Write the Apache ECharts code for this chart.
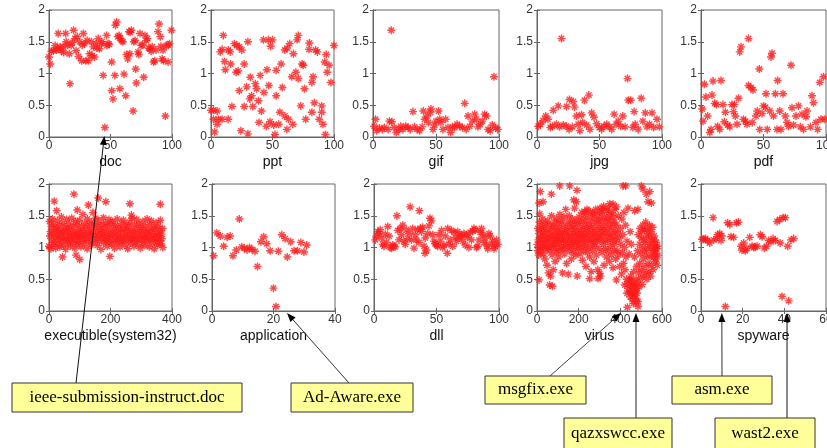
<!DOCTYPE html>
<html>
<head>
<meta charset="utf-8">
<script src="https://cdn.jsdelivr.net/npm/echarts@6/dist/echarts.min.js"></script>
<style>
  html, body { margin: 0; padding: 0; background: #fff; }
  #main { width: 827px; height: 448px; }
</style>
</head>
<body>
<div id="main"></div>
<script>
// panel names / x ranges
var xNames = ['doc', 'ppt', 'gif', 'jpg', 'pdf', 'executible(system32)', 'application', 'dll', 'virus', 'spyware'];
var xMaxes = [100, 100, 100, 100, 100, 400, 40, 100, 600, 60];
var xSteps = [50, 50, 50, 50, 50, 200, 20, 50, 200, 20];
var yMax = 2, yStep = 0.5;

// values, [x, y]
var docPts = [[0,1.26],[1,1.15],[2,1.35],[3.5,1.36],[5,1.44],[6,1.37],[7,1.39],[7.5,1.63],[9,1.42],[10,1.36],[11.6,1.42],[12,1.33],[13.5,1.63],[14,1.5],[15,1.45],[16.5,1.31],[17,0.84],[18,1.44],[19,1.49],[20,1.68],[21,1.55],[22,1.36],[23,1.58],[24,1.27],[25,1.5],[26.5,1.2],[27,1.45],[28,1.63],[29,1.47],[30,1.2],[31,1.52],[32,1.2],[33,1.31],[34.5,1.5],[35,1.28],[36,1.42],[37,1.26],[38.5,1.47],[39,1.4],[40,1.55],[41,1.39],[42.7,1.47],[43,1.5],[44,0.97],[45.4,0.15],[46.8,1.6],[47,1.44],[48,1.47],[49,1.46],[51,1.18],[51,0.73],[52,0.6],[53.5,0.97],[54,1.76],[55,1.81],[56,1.58],[57,1.6],[57.6,0.76],[58,1.55],[59,1.52],[60,1.5],[61,0.99],[62.4,0.65],[63,1.3],[64,1.23],[65,1.66],[65.7,1.31],[66,1.65],[67,1.68],[68.4,0.41],[69,1.5],[70,1.52],[70.5,1.07],[71,0.85],[72.4,1.34],[73,1.3],[74,1.63],[75,1.44],[76,1.45],[77,0.94],[78,1.6],[79,1.52],[80,1.55],[81,1.4],[82,1.39],[83,1.35],[84,1.42],[85,1.18],[86,1.2],[87,1.37],[88.6,1.66],[89.5,1.78],[90.5,1.58],[91,1.43],[92,1.23],[92.7,1.37],[93,1.2],[94.6,0.33],[95.4,1.44],[96.8,1.18],[97,1.45],[98,1.47],[99.5,1.68]];

var pptPts = [[0,0.42],[2,0.42],[5,0.41],[2,0.28],[5,0.2],[3,0.08],[6,0.28],[9,0.28],[14,0.28],[7.5,1.34],[9,1.38],[10,1.6],[11,1.19],[11.6,1.06],[14,1.37],[15.6,1.34],[16,1.15],[17,0.48],[19,1.47],[20.5,1.02],[21,1.44],[22,1.04],[23,1.42],[25,1.37],[23,0.73],[24.3,0.1],[27,1.15],[27,0.48],[29,0.79],[30,1.5],[30,0.05],[32,0.94],[31.5,0.6],[33,0.65],[34,0.48],[36,0.84],[37,0.76],[38.5,0.57],[40,0.97],[41,0.41],[39,0.23],[42.6,1.53],[43,0.7],[45,0.17],[45.5,1.06],[46.6,1.53],[47,0.81],[48,0.24],[48.5,1.43],[50,1.53],[51,0.19],[52,0.04],[53,0.65],[53,1.05],[55,0.2],[57,1.15],[58,0.78],[56,0.39],[60,1.37],[62,1.4],[60,0.33],[63,0.28],[61.7,0.12],[64,1.47],[65.7,0.95],[66.5,0.2],[67,1.31],[69,1.02],[70,1.53],[71,1.6],[71,0.92],[73,0.49],[74,1.15],[75,1.13],[76,0.76],[77,0.28],[79.7,1.38],[80,1.48],[82,0.86],[83,0.95],[82,0.39],[85,1.37],[86.5,1.34],[84,0.54],[88,0.28],[90,0.39],[90,0.49],[91,0.2],[92.5,1.18],[93,0.04],[93.7,1.3],[96,1.13],[94.5,1.02],[97.5,0.86],[100,1.44]];

var gifPts = [[14.5,1.68],[96,0.95],[31.7,0.4],[72.8,0.53],[1,0.17],[2,0.28],[3,0.1],[5,0.14],[7.4,0.12],[9,0.15],[12,0.12],[13,0.25],[15,0.24],[16.7,0.15],[18.5,0.07],[20.6,0.12],[22,0.17],[23.8,0.12],[26,0.17],[27.8,0.15],[29.6,0.12],[33,0.16],[35,0.12],[37,0.1],[39,0.16],[40,0.41],[41,0.28],[43,0.33],[44,0.23],[45.5,0.39],[46,0.44],[47.6,0.12],[49,0.19],[50,0.25],[52,0.41],[53,0.28],[54,0.23],[55.5,0.12],[57.7,0.28],[59.5,0.15],[61.6,0.07],[63,0.16],[64.8,0.15],[66.7,0.2],[68.8,0.17],[71,0.15],[74,0.12],[75.4,0.33],[76.7,0.17],[78.8,0.25],[80.7,0.36],[82,0.28],[83.3,0.16],[85,0.2],[86.8,0.25],[88.6,0.36],[90,0.33],[91.3,0.12],[93,0.1],[94.7,0.19],[97.4,0.15],[99,0.12]];

var jpgPts = [[19.6,1.55],[72.4,0.92],[73,0.58],[75,0.58],[77.7,0.4],[83.4,0.61],[86.6,0.38],[92,0.38],[96,0.28],[41.5,0.66],[38,0.58],[26,0.59],[29,0.56],[30,0.47],[23.6,0.48],[17,0.49],[13,0.42],[31.6,0.33],[35.6,0.35],[43.7,0.38],[45.6,0.31],[1,0.17],[2.7,0.2],[4.8,0.26],[7,0.33],[8.8,0.28],[10.7,0.15],[12.3,0.17],[15.5,0.2],[18,0.16],[21,0.19],[23.6,0.17],[25.7,0.12],[28.4,0.16],[33,0.2],[34.3,0.1],[36.5,0.23],[39.7,0.19],[42.4,0.12],[47.7,0.21],[49.9,0.15],[51.7,0.12],[53.6,0.17],[55.8,0.2],[57.9,0.16],[59.8,0.12],[61.7,0.36],[63.3,0.2],[65,0.25],[67,0.17],[68.6,0.33],[70.5,0.16],[76.7,0.15],[78.5,0.2],[81,0.12],[84.7,0.25],[88,0.16],[90,0.2],[93.3,0.15],[97.9,0.16]];

var pdfPts = [[1,0.44],[1.6,0.25],[2.7,0.83],[4,0.63],[5.3,0.33],[7,0.07],[8,0.12],[8.8,0.66],[9.6,0.88],[11,0.53],[12.3,0.51],[13.3,0.17],[15,0.12],[16,0.89],[17.6,0.51],[18.7,0.24],[19.5,0.39],[21.3,0.19],[23,0.16],[24.8,0.51],[26,0.4],[26.7,0.51],[27.5,0.33],[28.8,0.2],[30,0.61],[31,1.34],[32,1.42],[34,0.28],[35.5,0.25],[36.8,0.2],[38,1.55],[38,0.81],[40,0.78],[41.6,0.74],[41,0.23],[44,0.33],[45,0.41],[46.7,1.07],[47,0.12],[48.8,0.37],[50,0.49],[51.5,0.47],[52,0.68],[53,0.12],[55,0.41],[56,1.26],[56.8,1.32],[58,0.33],[59.5,0.68],[60.8,0.12],[61.3,0.89],[63,0.41],[64,0.12],[65.6,0.68],[67.5,0.33],[68.8,0.23],[70,0.17],[72,1.13],[72.8,0.46],[74,0.19],[76,0.33],[78,0.49],[79.5,0.16],[80.8,0.36],[82,0.12],[84,0.32],[84.8,0.41],[87.5,0.16],[88.8,0.65],[90,0.54],[92,0.23],[93.3,0.12],[95,0.86],[96,0.28],[98,0.95],[99,0.28]];

var exePts = [[17,1.73],[25,1.58],[81,1.84],[92,1.59],[128,1.67],[160,1.78],[185,1.72],[263,1.69],[268,1.51],[362,1.68],[44,0.85],[88,0.88],[100,0.81],[198,0.86],
[0,1.02],[2,1.41],[3,1.18],[5,1.25],[6,0.98],[8,1.33],[9,1.12],[11,1.45],[12,1.05],[14,1.22],[15,1.36],[17,1.08],[19,1.28],[20,1.15],[22,0.99],[24,1.31],[25,1.19],[27,1.42],[29,1.06],[30,1.24],[32,1.13],[34,1.35],[35,1.01],[37,1.27],[39,1.17],[40,1.48],[42,1.09],[44,1.21],[45,1.38],[47,1.03],[49,1.26],[50,1.14],[52,1.32],[54,0.97],[55,1.19],[57,1.44],[59,1.11],[60,1.29],[62,1.07],[64,1.23],[65,1.37],[67,1.16],[69,1.02],[70,1.3],[72,1.12],[74,1.46],[75,1.2],[77,1.08],[79,1.34],[80,1.17],[82,1.25],[84,0.99],[86,1.41],[87,1.13],[89,1.22],[91,1.05],[92,1.36],[94,1.18],[96,1.28],[97,1.09],[99,1.43],[101,1.15],[103,1.24],[104,1.01],[106,1.33],[108,1.19],[110,1.52],[111,1.11],[113,1.27],[115,1.06],[116,1.38],[118,1.2],[120,1.14],[122,1.31],[124,0.98],[125,1.45],[127,1.22],[129,1.1],[131,1.35],[132,1.17],[134,1.26],[136,1.04],[138,1.4],[139,1.21],[141,1.12],[143,1.55],[145,1.29],[146,1.08],[148,1.37],[150,1.19],[152,1.46],[153,1.14],[155,1.25],[157,1.03],[159,1.33],[160,1.17],[162,1.42],[164,1.1],[166,1.28],[168,1.21],[169,0.97],[171,1.36],[173,1.15],[175,1.24],[177,1.47],[178,1.07],[180,1.3],[182,1.18],[184,1.39],[186,1.11],[187,1.23],[189,1.02],[191,1.34],[193,1.16],[195,1.44],[197,1.09],[198,1.27],[200,1.19],[202,1.37],[204,1.05],[206,1.22],[207,1.41],[209,1.13],[211,1.29],[213,0.99],[215,1.18],[216,1.35],[218,1.1],[220,1.25],[222,1.45],[224,1.07],[225,1.2],[227,1.32],[229,1.14],[231,1.01],[233,1.28],[234,1.16],[236,1.38],[238,1.09],[240,1.23],[242,1.43],[243,1.12],[245,1.3],[247,1.04],[249,1.19],[251,1.36],[252,1.15],[254,1.26],[256,0.98],[258,1.33],[260,1.11],[261,1.21],[263,1.4],[265,1.07],[267,1.27],[269,1.17],[270,1.46],[272,1.13],[274,1.24],[276,1.02],[278,1.35],[279,1.18],[281,1.09],[283,1.29],[285,1.44],[287,1.14],[288,1.22],[290,1.05],[292,1.37],[294,1.16],[296,1.26],[297,0.99],[299,1.32],[301,1.12],[303,1.2],[305,1.41],[306,1.08],[308,1.28],[310,1.17],[312,1.03],[314,1.34],[315,1.15],[317,1.23],[319,1.45],[321,1.1],[323,1.27],[324,1.19],[326,1.01],[328,1.36],[330,1.13],[332,1.25],[333,1.42],[335,1.07],[337,1.2],[339,1.31],[341,1.14],[342,0.98],[344,1.29],[346,1.16],[348,1.39],[350,1.09],[351,1.22],[353,1.04],[355,1.33],[357,1.18],[359,1.11],[360,1.26],[362,1.43],[364,1.06],[366,1.21],[367,1.14],[369,1.3],[370,1.0]];

var appPts = [[0.5,0.87],[1.6,1.23],[2.7,1.18],[3.8,1.02],[4.9,1.16],[5.9,1.18],[6.8,0.87],[7.9,0.96],[8.9,1.45],[9.7,1.01],[10.5,0.99],[11.4,0.96],[12.2,1.0],[13,0.97],[14,0.94],[14.8,0.7],[15.9,1.09],[16.8,1.17],[17.8,1.06],[18.9,0.95],[20,0.36],[20.8,0.07],[21.6,0.94],[22.7,1.2],[23.8,1.14],[24.5,0.85],[25.6,1.09],[26.7,0.95],[27.8,0.95],[28.9,1.08],[29.9,0.93],[30.8,1.04]];

var dllPts = [[18.3,1.5],[28.9,1.64],[36.3,1.58],[44.8,1.46],[40.8,0.91],[58.6,0.91],
[1,1.12],[2,1.18],[3,1.25],[4,1.22],[5,1.28],[6,1.15],[7,1.05],[8,1.02],[9,1.21],[10,1.08],[11,1.33],[12,1.18],[13,1.0],[14,0.99],[15,1.04],[16,1.02],[17,1.01],[19,1.27],[20,1.12],[21,1.3],[22,1.2],[23,1.35],[24,1.1],[25,1.05],[26,1.28],[27,1.14],[28,1.22],[30,1.12],[31,1.3],[32,0.99],[33,1.2],[34,1.12],[35,1.28],[36,1.08],[37,1.3],[38,1.25],[39,1.32],[40,1.02],[41,1.15],[42,0.96],[43,1.22],[44,1.34],[46,1.42],[47,1.2],[48,1.1],[49,1.06],[50,1.04],[51,1.02],[52,1.2],[53,1.1],[54,1.27],[55,1.0],[56,1.04],[57,1.18],[59,1.3],[60,1.05],[61,1.12],[62,1.27],[63,1.02],[64,1.24],[65,1.16],[66,1.1],[67,1.25],[68,1.15],[69,1.2],[70,1.18],[71,1.1],[72,1.22],[73,1.04],[74,1.2],[75,1.16],[76,1.0],[77,1.24],[78,1.12],[79,1.26],[80,1.3],[81,1.28],[82,1.0],[83,1.02],[84,1.12],[85,1.24],[86,1.3],[87,1.2],[88,1.08],[89,1.15],[90,1.04],[91,0.98],[92,1.22],[93,1.18],[94,1.05],[95,1.1],[96,0.98],[97,1.02],[98,1.12],[99,1.05]];

var virusPts = [[16,1.88],[10,1.7],[13,1.53],[10,0.49],[29,1.72],[69,1.84],[61,0.41],[74,0.39],[109,1.97],[157,1.97],[192,1.9],[176,1.75],[189,1.72],[253,0.51],[301,0.59],[293,0.51],[381,0.49],[413,1.97],[426,1.97],[432,0.28],[434,0.06],[421,0.41],[453,0.49],[461,0.36],[464,0.24],[477,0.15],[485,0.07],[501,1.97],[509,1.92],[541,1.88],[549,1.7],[533,1.72],[525,1.84],[485,1.6],[469,1.58],[381,1.64],[365,1.68],[349,1.69],[317,1.61],[301,1.56],[269,1.54],[229,1.56],[240,1.6],
[2,1.05],[4,0.95],[5,1.3],[7,1.12],[8,0.88],[10,1.22],[12,1.4],[13,1.0],[15,1.15],[17,0.92],[18,1.28],[20,1.08],[22,1.35],[23,0.98],[25,1.18],[27,1.45],[28,1.02],[30,1.25],[32,0.9],[33,1.12],[35,1.32],[37,1.05],[38,0.82],[40,1.2],[42,1.38],[43,0.97],[45,1.1],[47,1.28],[48,0.72],[50,1.15],[52,1.42],[53,1.0],[55,0.6],[57,1.22],[58,1.08],[60,0.95],[62,1.35],[63,1.15],[65,0.55],[67,1.02],[68,1.27],[70,1.5],[72,0.88],[73,1.18],[75,1.05],[77,1.33],[78,0.65],[80,1.12],[82,0.98],[83,1.4],[85,1.2],[87,0.78],[88,1.06],[90,1.3],[92,1.15],[93,0.92],[95,1.45],[97,1.1],[98,1.25],[100,1.0],
[102,1.38],[103,1.18],[105,0.85],[107,1.08],[108,1.3],[110,1.52],[112,0.95],[113,1.2],[115,1.12],[117,1.42],[118,1.02],[120,1.25],[122,0.6],[123,1.15],[125,1.35],[127,0.98],[128,1.1],[130,1.48],[132,1.22],[133,0.9],[135,1.05],[137,1.3],[138,1.6],[140,1.12],[142,0.75],[143,1.25],[145,1.0],[147,1.4],[148,1.18],[150,0.58],[152,1.08],[153,1.32],[155,1.5],[157,0.95],[158,1.2],[160,1.12],[162,1.38],[163,1.02],[165,0.82],[167,1.28],[168,1.15],[170,1.45],[172,1.05],[173,0.92],[175,1.22],[177,1.35],[178,1.1],[180,1.62],[182,1.0],[183,1.3],[185,1.18],[187,0.88],[188,1.42],[190,1.08],[192,1.25],[193,0.55],[195,1.12],[197,1.38],[198,0.98],[200,1.2],
[202,1.48],[203,1.05],[205,1.3],[207,0.9],[208,1.15],[210,1.4],[212,1.22],[213,1.0],[215,1.55],[217,1.1],[218,0.8],[220,1.28],[222,1.18],[223,1.45],[225,0.95],[227,1.35],[228,1.08],[230,1.2],[232,1.52],[233,1.02],[235,0.7],[237,1.3],[238,1.15],[240,1.42],[242,0.92],[243,1.25],[245,1.1],[247,1.58],[248,1.0],[250,1.35],[252,1.2],[253,0.85],[255,1.48],[257,1.12],[258,1.3],[260,0.62],[262,1.05],[263,1.4],[265,1.22],[267,0.95],[268,1.55],[270,1.15],[272,1.32],[273,0.78],[275,1.08],[277,1.45],[278,1.25],[280,1.02],[282,1.6],[283,1.18],[285,0.88],[287,1.38],[288,1.1],[290,1.5],[292,0.65],[293,1.28],[295,1.15],[297,1.42],[298,0.98],[300,1.2],
[302,1.62],[303,1.32],[305,0.55],[307,1.1],[308,1.45],[310,1.25],[312,0.92],[313,1.55],[315,1.18],[317,1.35],[318,1.05],[320,1.65],[322,0.72],[323,1.28],[325,1.48],[327,1.12],[328,0.98],[330,1.4],[332,1.22],[333,0.85],[335,1.58],[337,1.3],[338,1.1],[340,1.45],[342,0.95],[343,1.62],[345,1.2],[347,1.35],[348,0.78],[350,1.52],[352,1.15],[353,1.02],[355,1.42],[357,1.25],[358,0.88],[360,1.55],[362,1.1],[363,1.32],[365,0.68],[367,1.48],[368,1.18],[370,0.95],[372,1.4],[373,1.05],[375,1.6],[377,1.25],[378,0.82],[380,1.12],
[382,1.35],[385,0.95],[387,1.22],[390,1.5],[392,0.88],[395,1.15],[397,0.7],[400,1.3],[402,1.05],[405,0.58],[407,1.45],[410,0.92],[412,1.2],[415,0.75],[417,1.55],[420,1.0],[422,0.65],[425,1.35],[427,0.85],[430,0.5],[432,1.1],[435,0.42],[437,1.62],[440,0.35],[442,0.9],[443,0.48],[445,0.3],[447,1.25],[448,0.22],[450,0.55],[452,0.4],[453,1.05],[455,0.28],[457,0.18],[458,0.45],[460,0.32],[462,0.12],[463,0.62],[465,0.38],[467,0.25],[468,0.85],[470,0.42],[472,0.3],[473,0.2],[475,0.5],[477,0.35],[478,0.7],[480,0.28],
[482,0.45],[483,0.95],[485,0.15],[487,1.2],[488,0.6],[490,0.38],[492,1.05],[493,0.75],[495,1.3],[497,0.52],[498,0.9],[500,1.15],[502,0.65],[503,1.25],[505,0.42],[507,1.0],[508,1.35],[510,0.82],[512,1.12],[513,0.55],[515,0.95],[517,1.28],[518,0.7],[520,1.08],[522,1.4],[523,0.6],[525,0.88],[527,1.18],[528,0.5],[530,1.3],[532,0.98],[533,0.75],[535,1.22],[537,0.62],[538,1.05],[540,1.35],[542,0.85],[543,1.15],[545,0.55],[547,1.0],[548,1.25],[550,0.72],[552,1.1],[553,0.92],[555,1.32],[557,0.65],[558,1.05],[560,0.85],[562,1.18],[563,0.95],[565,1.12],[567,0.78],[568,1.0],[570,0.9],[572,1.08],[573,0.82],[575,0.98],[577,0.72],[578,1.02],[580,0.88]];

var spywarePts = [[0.5,1.13],[1.3,1.13],[2.1,1.14],[3.2,1.11],[4.2,1.07],[5.8,1.47],[6.1,1.12],[7.4,1.14],[8,1.2],[9,1.22],[9.6,1.11],[10,1.18],[11.7,0.07],[12.8,1.39],[13.8,1.36],[14.4,1.17],[15.7,1.16],[17,1.39],[18,1.4],[19.2,1.02],[19.7,0.96],[20.5,1.07],[21.3,0.95],[22,0.99],[23.4,1.16],[24.5,1.02],[25.3,1.0],[26,1.01],[26.9,1.02],[28.5,1.2],[29.3,1.17],[30.4,0.99],[31.4,1.02],[32.5,1.11],[33.6,1.09],[34.6,1.14],[35.7,1.11],[36.5,1.41],[37.8,1.44],[39.4,1.47],[38,1.07],[38.9,0.23],[40.5,1.47],[41.6,1.02],[42.1,0.16],[43.2,1.12],[44.5,1.14]];

var panelData = [docPts, pptPts, gifPts, jpgPts, pdfPts, exePts, appPts, dllPts, virusPts, spywarePts];

// callouts: label, panel index, x value the arrow points at
var calloutText = ['ieee-submission-instruct.doc', 'Ad-Aware.exe', 'msgfix.exe', 'qazxswcc.exe', 'asm.exe', 'wast2.exe'];
var calloutPanel = [0, 6, 8, 8, 9, 9];
var calloutX = [45, 24.4, 403, 475, 10, 41.3];

// layout (pixels)
var gridBoxes = [
  [49, 10, 123, 127], [211, 10, 123, 127], [373, 10, 126, 127], [537, 10, 125, 127], [701, 10, 125, 127],
  [49, 184, 123, 127], [212, 184, 123, 127], [374, 184, 125, 127], [537, 184, 125, 127], [701, 184, 125, 127]
];
var calloutBoxes = [[12, 383, 230, 29], [291, 383, 122, 29], [485, 376, 101, 28], [564, 418, 108, 32], [672, 376, 100, 28], [715, 418, 100, 32]];
var calloutFrom = [[76, 383], [349, 383], [550, 376], [636, 418], [722, 376], [787, 418]];
var calloutLine = ['#111', '#333', '#444', '#777', '#333', '#111'];

var star = 'path://M5 0 L5 10 M0 5 L10 5 M1.6 1.6 L8.4 8.4 M8.4 1.6 L1.6 8.4';
var axisCol = '#666';
var font = 'Arial, Liberation Sans, sans-serif';

var chart = echarts.init(document.getElementById('main'));

var grids = [], xAxes = [], yAxes = [], series = [];
gridBoxes.forEach(function (b, i) {
  grids.push({left: b[0], top: b[1], width: b[2], height: b[3], show: true,
    containLabel: false, outerBoundsMode: 'none',
    borderColor: axisCol, borderWidth: 1, backgroundColor: '#fff'});
  var tick = {show: true, inside: true, length: 3, lineStyle: {color: axisCol}};
  xAxes.push({
    gridIndex: i, type: 'value', min: 0, max: xMaxes[i], interval: xSteps[i], position: 'bottom',
    name: xNames[i], nameLocation: 'middle', nameGap: 18,
    nameTextStyle: {fontSize: 14, color: '#111', fontFamily: font},
    axisLine: {show: true, lineStyle: {color: axisCol}}, axisTick: tick,
    axisLabel: {fontSize: 12, color: '#333', margin: 3, fontFamily: font},
    splitLine: {show: false}
  });
  xAxes.push({
    gridIndex: i, type: 'value', min: 0, max: xMaxes[i], interval: xSteps[i], position: 'top',
    axisLine: {show: true, lineStyle: {color: axisCol}}, axisTick: tick,
    axisLabel: {show: false}, splitLine: {show: false}
  });
  yAxes.push({
    gridIndex: i, type: 'value', min: 0, max: yMax, interval: yStep, position: 'left',
    axisLine: {show: true, lineStyle: {color: axisCol}}, axisTick: tick,
    axisLabel: {fontSize: 12, color: '#333', margin: 4, fontFamily: font},
    splitLine: {show: false}
  });
  yAxes.push({
    gridIndex: i, type: 'value', min: 0, max: yMax, interval: yStep, position: 'right',
    axisLine: {show: true, lineStyle: {color: axisCol}}, axisTick: tick,
    axisLabel: {show: false}, splitLine: {show: false}
  });
  series.push({
    type: 'scatter', xAxisIndex: 2 * i, yAxisIndex: 2 * i, data: panelData[i],
    symbol: star, symbolSize: 8, silent: true,
    itemStyle: {color: '#ff0000', borderColor: '#ff1a1a', borderWidth: 1.4}
  });
});

chart.setOption({
  backgroundColor: '#fff',
  animation: false,
  grid: grids,
  xAxis: xAxes,
  yAxis: yAxes,
  series: series
});

// arrows + yellow boxes
var gfx = [];
calloutText.forEach(function (t, k) {
  var p = calloutPanel[k];
  var tip = chart.convertToPixel({xAxisIndex: 2 * p, yAxisIndex: 2 * p}, [calloutX[k], 0]);
  tip = [tip[0], p < 5 ? tip[1] - 1 : tip[1] + 2];
  var from = calloutFrom[k];
  var dx = tip[0] - from[0], dy = tip[1] - from[1];
  var len = Math.sqrt(dx * dx + dy * dy);
  var ux = dx / len, uy = dy / len;
  var bx = tip[0] - ux * 9, by = tip[1] - uy * 9;
  gfx.push({type: 'line', z: 100, shape: {x1: from[0], y1: from[1], x2: bx, y2: by},
    style: {stroke: calloutLine[k], lineWidth: k === 3 ? 1.6 : 1}});
  gfx.push({type: 'polygon', z: 100, shape: {points: [tip, [bx - uy * 3.5, by + ux * 3.5], [bx + uy * 3.5, by - ux * 3.5]]},
    style: {fill: '#000'}});
  var b = calloutBoxes[k];
  gfx.push({type: 'rect', z: 100, shape: {x: b[0], y: b[1], width: b[2], height: b[3]},
    style: {fill: '#ffff99', stroke: '#333', lineWidth: 1}});
  gfx.push({type: 'text', z: 101, x: b[0] + b[2] / 2, y: b[1] + b[3] / 2,
    style: {text: t, fill: '#000', font: '17px "Liberation Serif", "Times New Roman", serif',
      textAlign: 'center', textVerticalAlign: 'middle'}});
});
chart.setOption({graphic: gfx});
</script>
</body>
</html>
